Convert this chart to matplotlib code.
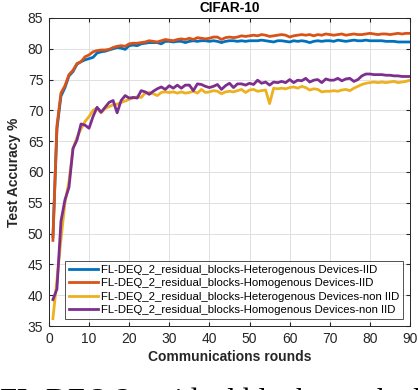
import numpy as np
import matplotlib
matplotlib.use("Agg")
import matplotlib.pyplot as plt

rounds = np.arange(1, 91)

hetero_iid = [
    49.5, 67.0, 72.3, 73.7, 75.6, 76.3, 77.5, 77.9, 78.2, 78.4,
    78.6, 79.3, 79.5, 79.6, 79.8, 80.0, 80.2, 80.1, 79.9, 80.5,
    80.6, 80.5, 80.8, 80.9, 81.0, 81.0, 81.0, 80.8, 81.2, 81.2,
    81.1, 81.2, 81.2, 81.0, 81.2, 81.3, 81.2, 81.3, 81.3, 81.2,
    81.3, 81.2, 81.0, 81.2, 81.3, 81.3, 81.2, 81.3, 81.2, 81.3,
    81.3, 81.3, 81.4, 81.3, 81.2, 81.1, 81.3, 81.3, 81.2, 81.1,
    81.3, 81.2, 81.3, 81.2, 81.0, 81.2, 81.3, 81.2, 81.3, 81.3,
    81.2, 81.4, 81.3, 81.2, 81.3, 81.4, 81.3, 81.3, 81.4, 81.3,
    81.3, 81.3, 81.3, 81.2, 81.2, 81.2, 81.1, 81.1, 81.1, 81.1,
]

homo_iid = [
    48.9, 67.5, 72.8, 74.0, 75.8, 76.5, 77.6, 77.9, 78.7, 79.0,
    79.5, 79.7, 79.8, 79.8, 79.9, 80.2, 80.4, 80.5, 80.4, 80.8,
    80.9, 80.9, 81.0, 81.1, 81.3, 81.2, 81.1, 81.3, 81.5, 81.4,
    81.3, 81.5, 81.6, 81.5, 81.7, 81.5, 81.8, 81.7, 81.6, 81.7,
    81.9, 81.9, 81.5, 81.8, 81.9, 81.8, 81.9, 82.1, 82.0, 82.1,
    82.2, 82.1, 82.3, 82.2, 82.0, 82.1, 82.2, 82.3, 82.2, 81.9,
    82.1, 82.2, 82.3, 82.2, 82.3, 82.1, 82.3, 82.2, 82.4, 82.3,
    82.2, 82.3, 82.4, 82.2, 82.3, 82.4, 82.3, 82.3, 82.4, 82.5,
    82.4, 82.3, 82.4, 82.4, 82.3, 82.4, 82.5, 82.4, 82.5, 82.5,
]

hetero_noniid = [
    36.2, 42.5, 49.0, 55.0, 58.5, 63.8, 65.6, 67.0, 68.2, 69.0,
    70.0, 70.4, 69.6, 70.3, 70.6, 70.9, 71.0, 71.3, 71.5, 71.8,
    72.0, 72.2, 72.1, 72.8, 72.9, 72.7, 72.4, 72.9, 73.0, 72.9,
    73.0, 72.8, 73.0, 72.8, 72.9, 73.1, 72.8, 73.4, 72.9, 73.0,
    73.2, 73.1, 72.7, 73.0, 73.1, 73.0, 73.2, 73.4, 72.9, 73.3,
    73.4, 73.1, 73.2, 73.3, 71.1, 73.6, 73.5, 73.6, 73.5, 73.7,
    73.8, 73.6, 73.9, 73.7, 73.3, 73.5, 73.4, 73.0, 73.1, 73.1,
    73.2, 73.1, 73.3, 73.4, 73.2, 73.6, 73.9, 74.2, 74.4, 74.5,
    74.6, 74.5, 74.6, 74.5, 74.6, 74.7, 74.5, 74.6, 74.7, 74.9,
]

homo_noniid = [
    39.3, 41.0, 52.0, 55.5, 57.5, 63.8, 65.2, 67.8, 67.6, 67.1,
    69.0, 70.5, 69.7, 70.5, 71.3, 71.6, 69.6, 71.6, 72.4, 72.0,
    72.1, 72.0, 73.2, 73.0, 72.6, 73.1, 73.5, 73.8, 73.4, 74.0,
    73.6, 74.1, 73.6, 74.1, 74.1, 73.2, 74.3, 74.2, 73.9, 73.7,
    73.9, 74.2, 73.4, 74.0, 74.4, 73.7, 74.3, 74.3, 74.1, 74.4,
    74.2, 74.9, 74.4, 74.6, 74.1, 74.6, 74.5, 74.7, 74.5, 75.0,
    74.5, 74.9, 74.8, 75.2, 74.6, 74.9, 75.0, 74.5, 75.1, 74.9,
    74.9, 75.2, 74.8, 75.1, 75.2, 74.7, 75.0, 75.6, 75.9, 75.9,
    75.8, 75.8, 75.8, 75.7, 75.7, 75.6, 75.6, 75.5, 75.5, 75.5,
]

labels = [
    "FL-DEQ_2_residual_blocks-Heterogenous Devices-IID",
    "FL-DEQ_2_residual_blocks-Homogenous Devices-IID",
    "FL-DEQ_2_residual_blocks-Heterogenous Devices-non IID",
    "FL-DEQ_2_residual_blocks-Homogenous Devices-non IID",
]
colors = ["#0072BD", "#D95319", "#EDB120", "#7E2F8E"]

plt.rcParams["font.family"] = ["Liberation Sans", "DejaVu Sans"]

fig = plt.figure(figsize=(4.18, 3.90), dpi=100)
ax = fig.add_axes([0.117, 0.164, 0.864, 0.790])

for series, label, color in zip([hetero_iid, homo_iid, hetero_noniid, homo_noniid], labels, colors):
    ax.plot(rounds, series, color=color, lw=2, label=label)

ax.set_xlim(0, 90)
ax.set_ylim(35, 85)
ax.set_xticks(range(0, 91, 10))
ax.set_yticks(range(35, 86, 5))
ax.grid(True, color="#e0e0e0", lw=0.7)
ax.set_axisbelow(True)
ax.tick_params(direction="in", length=3, labelsize=10, colors="#262626", top=True, right=True,
               labeltop=False, labelright=False, pad=4)
for s in ax.spines.values():
    s.set_color("#262626")
    s.set_linewidth(0.7)

ax.set_title("CIFAR-10", fontsize=9.8, fontweight="bold", pad=4)
ax.set_xlabel("Communications rounds", fontsize=10, fontweight="bold", color="#262626", labelpad=3)
ax.set_ylabel("Test Accuracy %", fontsize=10, fontweight="bold", color="#262626", labelpad=5)

leg = ax.legend(loc="lower right", fontsize=8.2, handlelength=2.5, borderpad=0.35,
                labelspacing=0.3, handletextpad=0.3, borderaxespad=0.6, fancybox=False)
leg.get_frame().set_edgecolor("#262626")
leg.get_frame().set_linewidth(0.7)

# caption of the source page, cut off by the crop
fig.text(0.0, 0.005, "FL-DEQ 2 residual blocks on the hi", fontsize=22,
         family=["Liberation Serif", "DejaVu Serif"], va="top", ha="left")

fig.savefig("out.png", dpi=100)
